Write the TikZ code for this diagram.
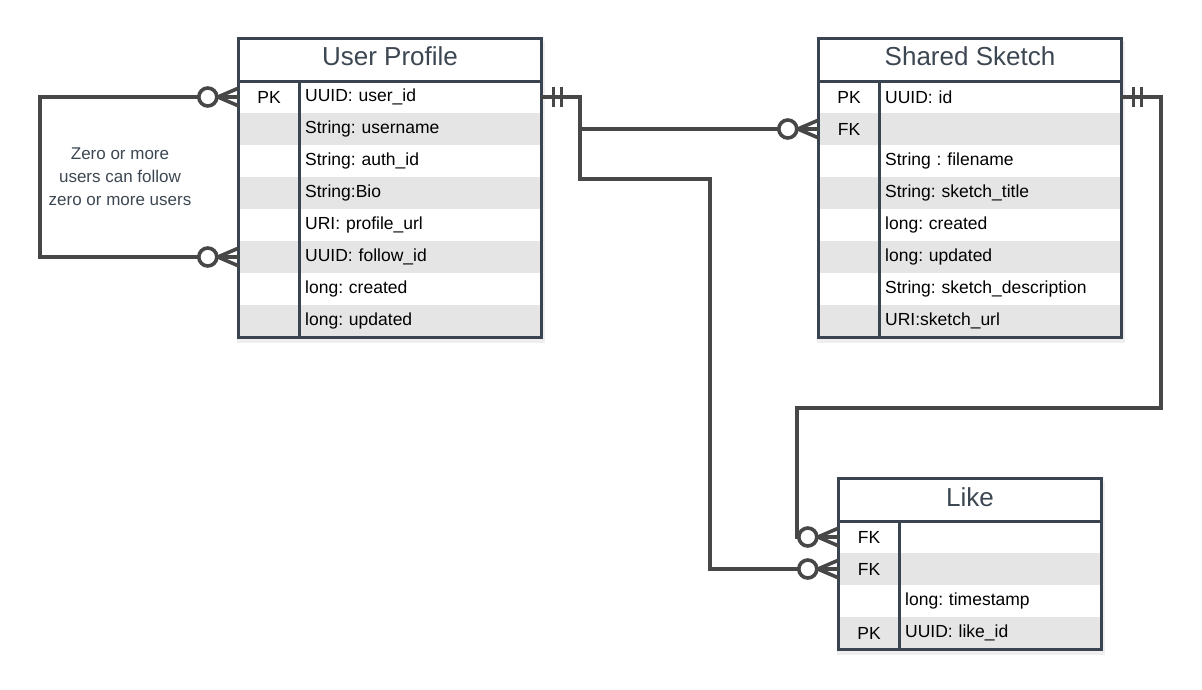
\documentclass[tikz,border=0pt]{standalone}
\usepackage{fontspec}
\setmainfont{Liberation Sans}
\usetikzlibrary{positioning}

\definecolor{tableborder}{HTML}{3A4450}
\definecolor{titletext}{HTML}{3D4752}
\definecolor{linegrey}{HTML}{474747}
\definecolor{rowgrey}{HTML}{E5E5E5}
\definecolor{shadegrey}{HTML}{EFEFEF}

\tikzset{
	zeromany/.pic={
		\draw[conn] (-21,0) -- (0,-9) (-21,0) -- (0,0) (-21,0) -- (0,9);
		\draw[conn, fill=white] (-31,0) circle (9);
	},
	onlyone/.pic={
		\draw[conn] (-12,-10) -- (-12,10) (-20,-10) -- (-20,10);
	}
}

\begin{document}
\frenchspacing
\begin{tikzpicture}[
		x=1pt, y=-1pt,
		border/.style={draw=tableborder, line width=3.2pt},
		tabletitle/.style={minimum height=42pt, inner sep=0pt, fill=white, text=titletext,
		text height=19pt, text depth=7pt, font=\fontsize{26}{30}\selectfont},
		keycell/.style={minimum width=60pt, minimum height=32pt, inner sep=0pt,
		font=\fontsize{17.5}{21}\selectfont},
		valcell/.style={text width=#1, minimum height=32pt, inner xsep=6pt, inner ysep=0pt,
		align=left, anchor=west, font=\fontsize{17.5}{21}\selectfont},
		note/.style={align=center, text=titletext, font=\fontsize{17}{23}\selectfont},
		conn/.style={draw=linegrey, line width=3.6pt}
		]
		\useasboundingbox (0,0) rectangle (1202,690);
		% soft shadows
		\fill[shadegrey] (237,41) rectangle (545,343);
		\fill[shadegrey] (817,41) rectangle (1125,343);
		\fill[shadegrey] (837,481) rectangle (1105,655);

		% User Profile
		\node[tabletitle, minimum width=302pt] (up-title) at (390,60) {User Profile};
		\foreach [count=\i] \k/\v in {PK/{UUID: user\_id}, {}/{String: username},
			{}/{String: auth\_id}, {}/{String:Bio}, {}/{URI: profile\_url},
			{}/{UUID: follow\_id}, {}/{long: created}, {}/{long: updated}} {
			\ifodd\i \def\rowfill{white}\else \def\rowfill{rowgrey}\fi
			\node[keycell, fill=\rowfill] (up-k\i) at (269,{65+32*\i}) {\k};
			\node[valcell=230pt, fill=\rowfill] (up-v\i) at (299,{65+32*\i}) {\v};
		}
		\draw[border] (up-title.north west) rectangle (up-v8.south east);
		\draw[border] (up-title.south west) -- (up-title.south east);
		\draw[border] (up-k1.north east) -- (up-k8.south east);

		% Shared Sketch
		\node[tabletitle, minimum width=302pt] (ss-title) at (970,60) {Shared Sketch};
		\foreach [count=\i] \k/\v in {PK/{UUID: id}, FK/{}, {}/{String : filename},
			{}/{String: sketch\_title}, {}/{long: created}, {}/{long: updated},
			{}/{String: sketch\_description}, {}/{URI:sketch\_url}} {
			\ifodd\i \def\rowfill{white}\else \def\rowfill{rowgrey}\fi
			\node[keycell, fill=\rowfill] (ss-k\i) at (849,{65+32*\i}) {\k};
			\node[valcell=230pt, fill=\rowfill] (ss-v\i) at (879,{65+32*\i}) {\v};
		}
		\draw[border] (ss-title.north west) rectangle (ss-v8.south east);
		\draw[border] (ss-title.south west) -- (ss-title.south east);
		\draw[border] (ss-k1.north east) -- (ss-k8.south east);

		% Like
		\node[tabletitle, minimum width=262pt] (lk-title) at (970,500) {Like};
		\foreach [count=\i] \k/\v in {FK/{}, FK/{}, {}/{long: timestamp}, PK/{UUID: like\_id}} {
			\ifodd\i \def\rowfill{white}\else \def\rowfill{rowgrey}\fi
			\node[keycell, fill=\rowfill] (lk-k\i) at (869,{505+32*\i}) {\k};
			\node[valcell=190pt, fill=\rowfill] (lk-v\i) at (899,{505+32*\i}) {\v};
		}
		\draw[border] (lk-title.north west) rectangle (lk-v4.south east);
		\draw[border] (lk-title.south west) -- (lk-title.south east);
		\draw[border] (lk-k1.north east) -- (lk-k4.south east);

		% users follow users
		\draw[conn] (up-k1.west) -- ++(-199,0) |- (up-k6.west);
		\node[note] (follow-note) at (120,177) {Zero or more\\users can follow\\zero or more users};
		\pic at (up-k1.west) {zeromany};
		\pic at (up-k6.west) {zeromany};

		% user -> sketch, user -> like
		\coordinate (bend-a) at (580,179);
		\coordinate (bend-b) at (710,179);
		\draw[conn] (up-v1.east) -| (bend-a) -- (bend-b) |- (lk-k2.west);
		\draw[conn] (bend-a |- ss-k2.west) -- (ss-k2.west);
		\pic[rotate=180] at (up-v1.east) {onlyone};
		\pic at (ss-k2.west) {zeromany};
		\pic at (lk-k2.west) {zeromany};

		% sketch -> like
		\coordinate (bend-c) at (1161,408);
		\coordinate (bend-d) at (797,408);
		\draw[conn] (ss-v1.east) -| (bend-c) -- (bend-d) |- (lk-k1.west);
		\pic[rotate=180] at (ss-v1.east) {onlyone};
		\pic at (lk-k1.west) {zeromany};
	\end{tikzpicture}
\end{document}
